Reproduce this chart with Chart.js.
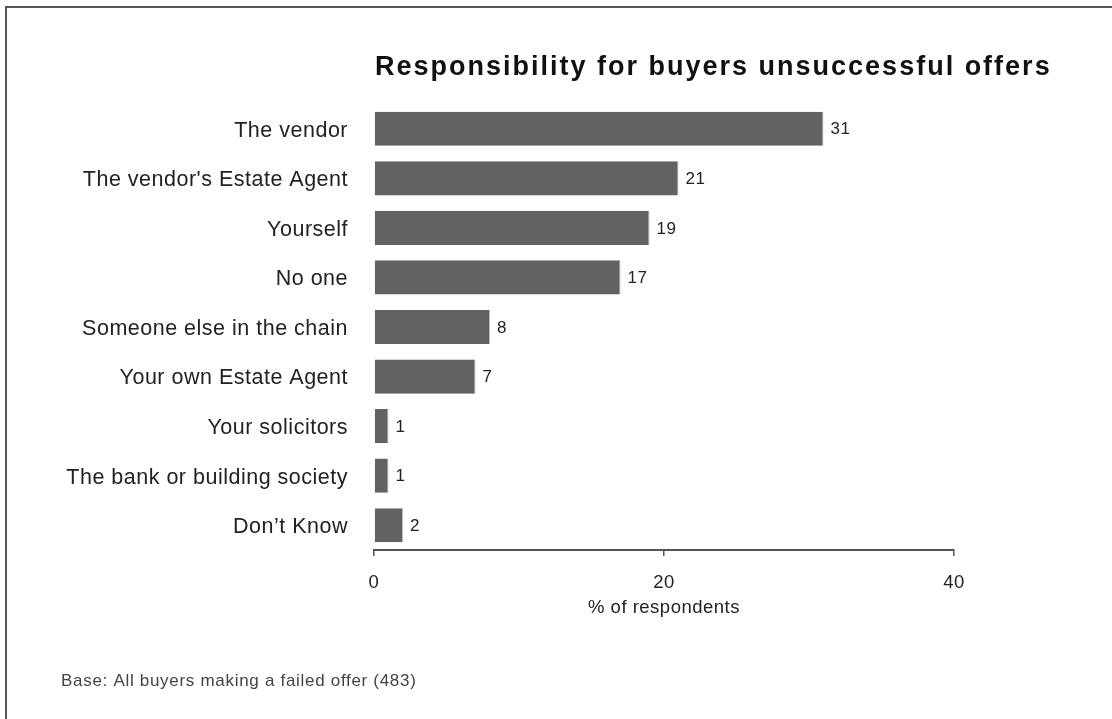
<!DOCTYPE html>
<html>
<head>
<meta charset="utf-8">
<title>Responsibility for buyers unsuccessful offers</title>
<script src="https://cdn.jsdelivr.net/npm/chart.js@4/dist/chart.umd.min.js"></script>
<style>
    html, body { margin: 0; padding: 0; background: #fff; overflow: hidden; }
    #wrap { position: relative; width: 1112px; height: 719px; }
    #frame { position: absolute; left: 5px; top: 6px; width: 1200px; height: 800px; border-top: 2px solid #555; border-left: 2px solid #555; }
    #chart { position: absolute; left: 0; top: 0; }
</style>
</head>
<body>
<div id="wrap">
    <div id="frame"></div>
    <canvas id="chart" width="1112" height="719"></canvas>
</div>
<script>
const titleText = 'Responsibility for buyers unsuccessful offers';
const baseNote = 'Base: All buyers making a failed offer (483)';
const axisTitle = '% of respondents';

const categories = [
    'The vendor',
    "The vendor's Estate Agent",
    'Yourself',
    'No one',
    'Someone else in the chain',
    'Your own Estate Agent',
    'Your solicitors',
    'The bank or building society',
    'Don’t Know',
];
const values = [31, 21, 19, 17, 8, 7, 1, 1, 2];
const xTicks = [0, 20, 40];

const FONT = '"Liberation Sans", Arial, Helvetica, sans-serif';
Chart.defaults.font.family = FONT;
Chart.defaults.color = '#222';

// text spacing, title, footnote and the value labels at the bar ends
const textPlugin = {
    id: 'textExtras',
    beforeDraw(chart) {
        chart.ctx.letterSpacing = '0.5px';
    },
    afterDatasetsDraw(chart) {
        const { ctx } = chart;
        const meta = chart.getDatasetMeta(0);
        ctx.save();
        ctx.font = '17px ' + FONT;
        ctx.fillStyle = '#222';
        ctx.textAlign = 'left';
        ctx.textBaseline = 'middle';
        meta.data.forEach((bar, i) => {
            ctx.fillText(String(values[i]), bar.x + 7, bar.y + 1);
        });
        ctx.restore();
    },
    afterDraw(chart) {
        const { ctx } = chart;
        ctx.save();
        ctx.textAlign = 'left';
        ctx.textBaseline = 'alphabetic';
        ctx.letterSpacing = '2px';
        ctx.font = 'bold 27px ' + FONT;
        ctx.fillStyle = '#111';
        ctx.fillText(titleText, 375, 75);
        ctx.letterSpacing = '0.7px';
        ctx.font = '17px ' + FONT;
        ctx.fillStyle = '#444';
        ctx.fillText(baseNote, 61, 686);
        ctx.restore();
    },
};

new Chart(document.getElementById('chart'), {
    type: 'bar',
    plugins: [textPlugin],
    data: {
        labels: categories,
        datasets: [{
            data: values,
            backgroundColor: '#616264',
            borderColor: '#b9b9b9',
            borderWidth: { right: 1 },
            borderSkipped: 'start',
            barPercentage: 0.69,
            categoryPercentage: 1,
        }],
    },
    options: {
        indexAxis: 'y',
        responsive: false,
        animation: false,
        layout: { padding: { left: 0, top: 104, right: 158, bottom: 96 } },
        plugins: { legend: { display: false }, tooltip: { enabled: false } },
        scales: {
            y: {
                grid: { display: false, drawTicks: false },
                border: { display: false },
                ticks: { font: { size: 21.5 }, color: '#222', padding: 26, labelOffset: 2 },
                afterFit: (scale) => { scale.width = 374; },
            },
            x: {
                min: 0,
                max: 40,
                afterBuildTicks: (scale) => { scale.ticks = xTicks.map((v) => ({ value: v })); },
                grid: { drawOnChartArea: false, drawTicks: true, tickLength: 6, color: '#555', lineWidth: 1.5 },
                border: { display: true, color: '#555', width: 2 },
                ticks: { font: { size: 18.5 }, color: '#222', padding: 16 },
                title: { display: true, text: axisTitle, font: { size: 18.5 }, color: '#222', padding: { top: 4, bottom: 4 } },
                afterFit: (scale) => { scale.height = 73; },
            },
        },
    },
});
</script>
</body>
</html>
